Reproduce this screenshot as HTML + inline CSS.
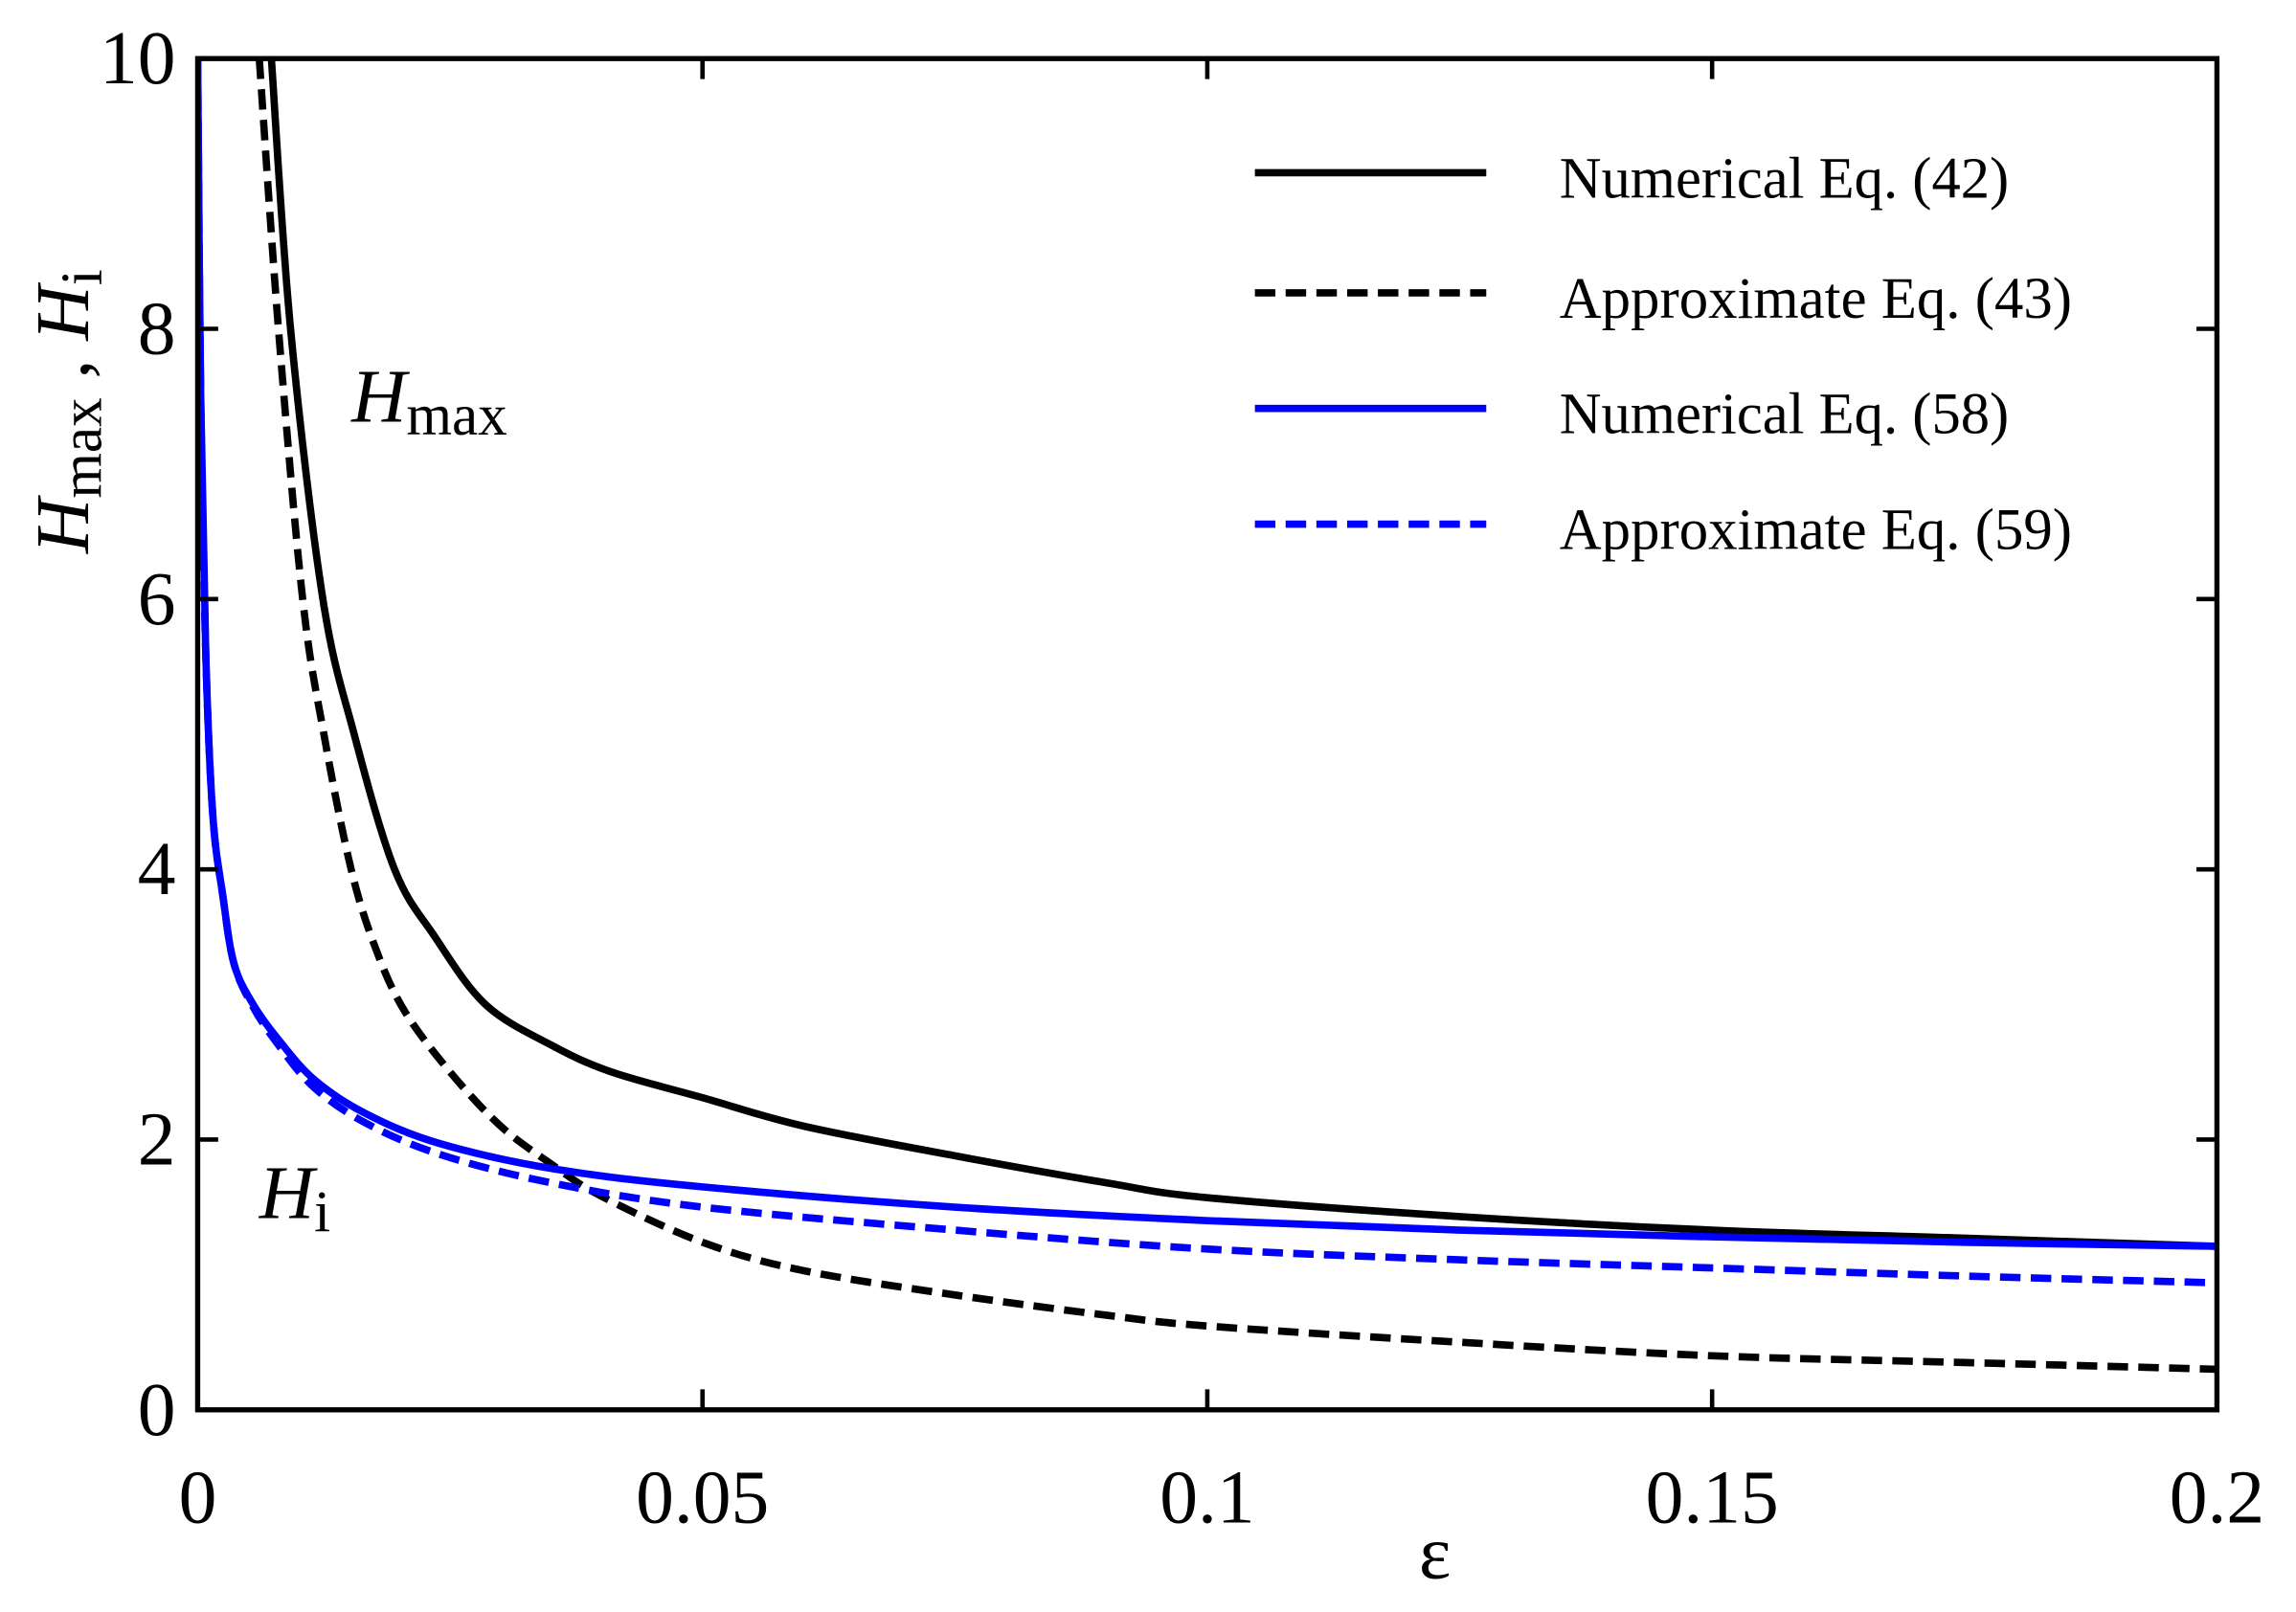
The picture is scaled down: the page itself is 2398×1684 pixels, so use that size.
<!DOCTYPE html>
<html><head><meta charset="utf-8"><style>
html,body{margin:0;padding:0;background:#fff;}
svg{display:block;font-family:"Liberation Serif",serif;}
</style></head><body>
<svg id="chart" width="2398" height="1684" viewBox="0 0 1568 1101.1" xmlns="http://www.w3.org/2000/svg">
<g id="marks"></g>
<g id="axes"></g>
</svg>
<script>
const xTicks=[0,0.05,0.1,0.15,0.2];
const xTickLabels=["0","0.05","0.1","0.15","0.2"];
const yTicks=[0,2,4,6,8,10];
const yTickLabels=["0","2","4","6","8","10"];
const hmaxNumEps=[0.0073,0.0092,0.0124,0.0155,0.0195,0.0235,0.0285,0.035,0.041,0.05,0.06,0.075,0.09,0.1,0.125,0.15,0.175,0.2];
const hmaxNumVal=[10,8,6,5,4,3.5,3,2.7,2.5,2.31,2.1,1.88,1.68,1.57,1.43,1.33,1.27,1.21];
const hmaxApxEps=[0.0061,0.008,0.0104,0.0125,0.0152,0.0177,0.0205,0.025,0.03,0.035,0.04,0.05,0.06,0.075,0.09,0.1,0.125,0.15,0.175,0.2];
const hmaxApxVal=[10,8,6,5,4,3.4,2.95,2.5,2.1,1.82,1.58,1.24,1.03,0.85,0.7,0.62,0.5,0.4,0.35,0.3];
const hiNumEps=[0,0.0003,0.0008,0.0015,0.0025,0.0036,0.0055,0.008,0.0116,0.0167,0.024,0.0355,0.05,0.075,0.1,0.125,0.15,0.175,0.2];
const hiNumVal=[10,7.5,5.6,4.4,3.8,3.3,3.0,2.74,2.44,2.19,1.97,1.78,1.65,1.5,1.4,1.33,1.28,1.24,1.21];
const hiApxEps=[0,0.0003,0.0008,0.0015,0.0025,0.0036,0.0055,0.008,0.0116,0.0167,0.024,0.035,0.05,0.075,0.1,0.125,0.15,0.175,0.2];
const hiApxVal=[10,7.5,5.6,4.4,3.8,3.3,2.98,2.7,2.38,2.12,1.89,1.68,1.5,1.33,1.19,1.11,1.05,0.99,0.94];

const L=135,R=1514,T=40,B=963;
function sx(v){return L+(v-0)/(0.2-0)*(R-L);}
function sy(v){return B-(v-0)/(10-0)*(B-T);}
const NS="http://www.w3.org/2000/svg";
function mk(tag,attrs,parent){const e=document.createElementNS(NS,tag);for(const k in attrs)e.setAttribute(k,attrs[k]);parent.appendChild(e);return e;}
const marks=document.getElementById('marks'),axes=document.getElementById('axes');
const clip=mk('clipPath',{id:'pc'},marks);mk('rect',{x:L,y:T,width:R-L,height:B-T},clip);
function smoothPath(pts){
  let d='M'+pts[0][0].toFixed(2)+','+pts[0][1].toFixed(2);
  for(let i=0;i<pts.length-1;i++){
    const p0=pts[Math.max(0,i-1)],p1=pts[i],p2=pts[i+1],p3=pts[Math.min(pts.length-1,i+2)];
    const c1x=p1[0]+(p2[0]-p0[0])/6,c1y=p1[1]+(p2[1]-p0[1])/6;
    const c2x=p2[0]-(p3[0]-p1[0])/6,c2y=p2[1]-(p3[1]-p1[1])/6;
    d+=' C'+c1x.toFixed(2)+','+c1y.toFixed(2)+' '+c2x.toFixed(2)+','+c2y.toFixed(2)+' '+p2[0].toFixed(2)+','+p2[1].toFixed(2);
  }
  return d;
}
function series(xs,ys,color,dash,name){
  const pts=xs.map((x,i)=>[sx(x),sy(ys[i])]);
  const p=mk('path',{d:smoothPath(pts),fill:'none',stroke:color,'stroke-width':5,'clip-path':'url(#pc)'},marks);
  if(dash)p.setAttribute('stroke-dasharray','14 7');
  
  
}
series(hmaxNumEps,hmaxNumVal,'#000',false,'hmax-numerical-line');
series(hmaxApxEps,hmaxApxVal,'#000',true,'hmax-approximate-line');
series(hiNumEps,hiNumVal,'#0000ff',false,'hi-numerical-line');
series(hiApxEps,hiApxVal,'#0000ff',true,'hi-approximate-line');

const frame=mk('rect',{x:L,y:T,width:R-L,height:B-T,fill:'none',stroke:'#000','stroke-width':3.5},axes);


xTicks.forEach((v,i)=>{
  const x=sx(v);
  mk('line',{x1:x,y1:B,x2:x,y2:B-14,stroke:'#000','stroke-width':3},axes);
  mk('line',{x1:x,y1:T,x2:x,y2:T+14,stroke:'#000','stroke-width':3},axes);
  const t=mk('text',{x:x,y:1040,'font-size':52,'text-anchor':'middle'},axes);
  t.textContent=xTickLabels[i];
  
  
});
yTicks.forEach((v,i)=>{
  const y=sy(v);
  mk('line',{x1:L,y1:y,x2:L+14,y2:y,stroke:'#000','stroke-width':3},axes);
  mk('line',{x1:R,y1:y,x2:R-14,y2:y,stroke:'#000','stroke-width':3},axes);
  const t=mk('text',{x:120,y:y+17,'font-size':52,'text-anchor':'end'},axes);
  t.textContent=yTickLabels[i];
  
  
});
</script>
<svg style="position:absolute;left:0;top:0" width="2398" height="1684" viewBox="0 0 1568 1101.1" xmlns="http://www.w3.org/2000/svg" font-family="Liberation Serif, serif">
<text x="980" y="1078" font-size="52" text-anchor="middle">ε</text>
<g transform="translate(60,378) rotate(-90)">
<text x="0" y="0" font-size="52"><tspan font-style="italic">H</tspan><tspan font-size="40" dy="9">max</tspan><tspan dy="-9"> , </tspan><tspan font-style="italic">H</tspan><tspan font-size="40" dy="9">i</tspan></text>
</g>
<text x="240" y="288" font-size="52"><tspan font-style="italic">H</tspan><tspan font-size="40" dy="9">max</tspan></text>
<text x="177" y="832" font-size="52"><tspan font-style="italic">H</tspan><tspan font-size="40" dy="9">i</tspan></text>
<g font-size="40">
<g><line x1="857" y1="118" x2="1015" y2="118" stroke="#000" stroke-width="5"/><text x="1065" y="135" textLength="307" lengthAdjust="spacingAndGlyphs">Numerical Eq. (42)</text></g>
<g><line x1="857" y1="200" x2="1015" y2="200" stroke="#000" stroke-width="5" stroke-dasharray="14 7"/><text x="1065" y="217" textLength="350" lengthAdjust="spacingAndGlyphs">Approximate Eq. (43)</text></g>
<g><line x1="857" y1="279" x2="1015" y2="279" stroke="#0000ff" stroke-width="5"/><text x="1065" y="296" textLength="307" lengthAdjust="spacingAndGlyphs">Numerical Eq. (58)</text></g>
<g><line x1="857" y1="358" x2="1015" y2="358" stroke="#0000ff" stroke-width="5" stroke-dasharray="14 7"/><text x="1065" y="375" textLength="350" lengthAdjust="spacingAndGlyphs">Approximate Eq. (59)</text></g>
</g>
</svg>
</body></html>
